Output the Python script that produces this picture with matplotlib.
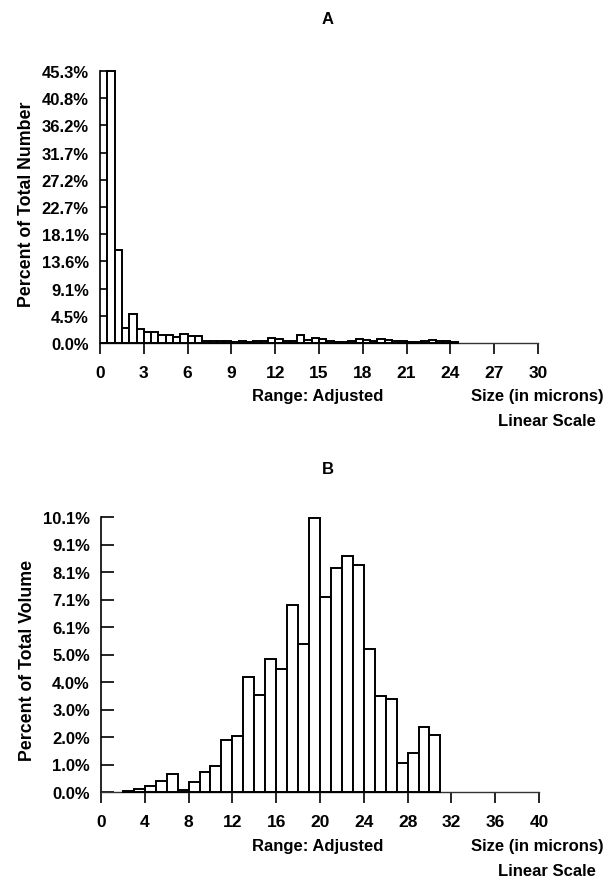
import numpy as np
import matplotlib
matplotlib.use('Agg')
from matplotlib import pyplot as plt

plt.rcParams['font.family'] = ['Liberation Sans', 'DejaVu Sans']
plt.rcParams['font.weight'] = 'bold'

# panel A - percent of total number, 0.5 micron bins starting at 0
a_bin_start = 0.0
a_bin_width = 0.5
a_heights = [0.0, 45.3, 15.5, 2.5, 4.8, 2.3, 1.8, 1.9, 1.3, 1.3,
             0.95, 1.5, 1.2, 1.2, 0.28, 0.28, 0.33, 0.4, 0.2, 0.3,
             0.15, 0.25, 0.4, 0.8, 0.7, 0.3, 0.4, 1.4, 0.5, 0.8,
             0.7, 0.3, 0.2, 0.2, 0.35, 0.65, 0.55, 0.3, 0.65, 0.45,
             0.3, 0.3, 0.1, 0.15, 0.25, 0.55, 0.3, 0.35, 0.1]
a_xticks = [0, 3, 6, 9, 12, 15, 18, 21, 24, 27, 30]
a_ytop = 45.3
a_yticklabels = ['0.0%', '4.5%', '9.1%', '13.6%', '18.1%', '22.7%',
                 '27.2%', '31.7%', '36.2%', '40.8%', '45.3%']

# panel B - percent of total volume, 1 micron bins starting at 2
b_bin_start = 2.0
b_bin_width = 1.0
b_heights = [0.05, 0.12, 0.21, 0.39, 0.66, 0.07, 0.37, 0.73, 0.94, 1.90,
             2.04, 4.24, 3.56, 4.87, 4.52, 6.87, 5.45, 10.05, 7.18, 8.22,
             8.67, 8.32, 5.26, 3.53, 3.41, 1.07, 1.45, 2.39, 2.09]
b_xticks = [0, 4, 8, 12, 16, 20, 24, 28, 32, 36, 40]
b_ytop = 10.1
b_yticklabels = ['0.0%', '1.0%', '2.0%', '3.0%', '4.0%', '5.0%',
                 '6.1%', '7.1%', '8.1%', '9.1%', '10.1%']

W, H = 610, 879
fig = plt.figure(figsize=(W / 100, H / 100), dpi=100)


def px_axes(l, t, r, b):
    return fig.add_axes([l / W, 1 - b / H, (r - l) / W, (b - t) / H])


def px_text(x, y, s, size=12, **kw):
    fig.text(x / W, 1 - y / H, s, ha='center', va='center',
             fontsize=size, fontweight='bold', **kw)


def draw_panel(ax, start, width, heights, xticks, ytop, yticklabels, ytick_len):
    lefts = start + width * np.arange(len(heights))
    ax.bar(lefts, heights, width=width, align='edge', facecolor='white',
           edgecolor='black', linewidth=1.4, clip_on=False, zorder=3)
    ax.set_xlim(xticks[0], xticks[-1])
    ax.set_ylim(0, ytop)
    ax.set_xticks(xticks)
    ax.set_xticklabels([str(t) for t in xticks])
    ax.set_yticks(np.linspace(0, ytop, len(yticklabels)))
    ax.set_yticklabels(yticklabels)
    ax.spines['top'].set_visible(False)
    ax.spines['right'].set_visible(False)
    ax.spines['left'].set_linewidth(1.2)
    ax.spines['bottom'].set_linewidth(1.0)
    ax.spines['bottom'].set_color('#333333')
    ax.tick_params(axis='y', direction='in', length=ytick_len, width=1.2,
                   pad=8, labelsize=12)
    ax.tick_params(axis='x', direction='out', length=8, width=1.2,
                   pad=8, labelsize=12.5)
    for lab in ax.get_xticklabels() + ax.get_yticklabels():
        lab.set_fontweight('bold')


ax_a = px_axes(100, 72, 538, 344)
draw_panel(ax_a, a_bin_start, a_bin_width, a_heights, a_xticks, a_ytop,
           a_yticklabels, 6)

ax_b = px_axes(101, 518, 539, 793)
draw_panel(ax_b, b_bin_start, b_bin_width, b_heights, b_xticks, b_ytop,
           b_yticklabels, 9)

px_text(328, 20, 'A')
px_text(27, 204, 'Percent of Total Number', size=12.8, rotation=90)
px_text(318, 397, 'Range: Adjusted')
px_text(537, 397, 'Size (in microns)')
px_text(547, 422, 'Linear Scale')

px_text(328, 470, 'B')
px_text(28, 660, 'Percent of Total Volume', size=12.8, rotation=90)
px_text(318, 847, 'Range: Adjusted')
px_text(537, 847, 'Size (in microns)')
px_text(547, 872, 'Linear Scale')

fig.savefig('out.png', dpi=100)
